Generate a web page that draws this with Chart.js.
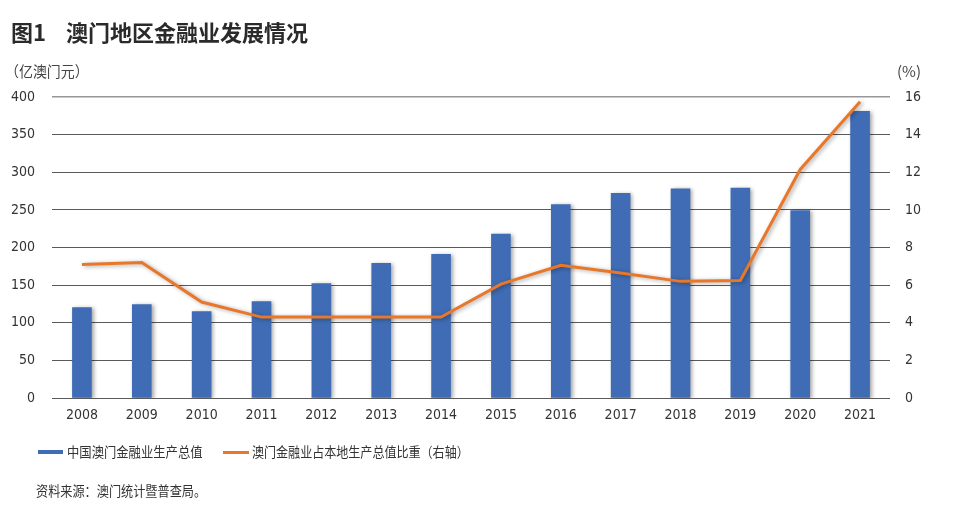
<!DOCTYPE html>
<html><head><meta charset="utf-8">
<script src="https://cdn.jsdelivr.net/npm/chart.js@4/dist/chart.umd.min.js"></script>
<style>
html,body{margin:0;padding:0;background:#fff;}
#wrap{position:relative;width:960px;height:508px;overflow:hidden;font-family:"Noto Sans CJK SC","Noto Sans",sans-serif;color:#333;}
canvas{position:absolute;left:0;top:0;}
.t{position:absolute;white-space:nowrap;transform-origin:0 50%;}
#title{left:11px;top:15px;font-size:22px;font-weight:bold;color:#2a2a2a;}
#unitL{left:5px;top:60px;font-size:15px;color:#444;transform:scaleX(0.93);}
#unitR{left:897px;top:60px;font-size:15px;color:#444;}
.sw{position:absolute;}
#leg1{left:67px;top:441px;font-size:14px;transform:scaleX(0.88);}
#leg2{left:252px;top:441px;font-size:14px;transform:scaleX(0.86);}
#src{left:36px;top:480px;font-size:13.5px;transform:scaleX(0.9);}
</style></head>
<body><div id="wrap">
<canvas id="c" width="960" height="508"></canvas>
<div class="t" id="title">图1&nbsp;&nbsp;&nbsp;&nbsp;澳门地区金融业发展情况</div>
<div class="t" id="unitL">（亿澳门元）</div>
<div class="t" id="unitR">(%)</div>
<div class="sw" style="left:38px;top:450px;width:25px;height:4px;background:#3F6CB4;"></div>
<div class="t" id="leg1">中国澳门金融业生产总值</div>
<div class="sw" style="left:223px;top:451px;width:26px;height:2.5px;background:#E8772A;"></div>
<div class="t" id="leg2">澳门金融业占本地生产总值比重（右轴）</div>
<div class="t" id="src">资料来源：澳门统计暨普查局。</div>
</div>
<script>
const years = ['2008','2009','2010','2011','2012','2013','2014','2015','2016','2017','2018','2019','2020','2021'];
const gdpFinance = [120,124,115,128,152,179,191,218,257,272,278,279,249,381];
const shareOfGdp = [7.1,7.2,5.1,4.3,4.3,4.3,4.3,6.05,7.05,6.65,6.2,6.25,12.15,15.75];
const leftTicks = [0,50,100,150,200,250,300,350,400];
const rightTicks = [0,2,4,6,8,10,12,14,16];

const tickFont = {family:'"Liberation Sans Narrow","DejaVu Sans Condensed","Liberation Sans",sans-serif', size:14};

const shadowPlugin = {
  id:'shadow',
  beforeDatasetsDraw(chart){
    const ctx = chart.ctx; ctx.save();
    ctx.shadowColor='rgba(0,0,0,0.35)'; ctx.shadowBlur=4; ctx.shadowOffsetX=2; ctx.shadowOffsetY=1;
  },
  afterDatasetsDraw(chart){ chart.ctx.restore(); }
};

new Chart(document.getElementById('c'), {
  data:{
    labels: years,
    datasets:[
      {type:'line', label:'澳门金融业占本地生产总值比重（右轴）', data:shareOfGdp, yAxisID:'y1',
       borderColor:'#E8772A', borderWidth:3, pointRadius:0, tension:0, order:0, borderJoinStyle:'miter'},
      {type:'bar', label:'中国澳门金融业生产总值', data:gdpFinance, yAxisID:'y',
       backgroundColor:'#3F6CB4', barThickness:19, order:1}
    ]
  },
  options:{
    responsive:false, animation:false,
    layout:{padding:{top:97, left:0, right:0, bottom:0}},
    plugins:{legend:{display:false}, tooltip:{enabled:false}},
    scales:{
      x:{
        grid:{display:false, drawTicks:false}, border:{display:false},
        ticks:{font:tickFont, color:'#333', padding:9, maxRotation:0},
        afterFit(s){ s.height = 110; }
      },
      y:{
        position:'left', min:0, max:400,
        afterBuildTicks(s){ s.ticks = leftTicks.map(v=>({value:v})); },
        grid:{color:(c)=> c.tick && c.tick.value===400 ? '#9a9696' : '#5a5a5a', lineWidth:(c)=> c.tick && c.tick.value===400 ? 1.6 : 1, drawTicks:false},
        border:{display:false},
        ticks:{font:tickFont, color:'#333', padding:17},
        afterFit(s){ s.width = 52; }
      },
      y1:{
        position:'right', min:0, max:16,
        afterBuildTicks(s){ s.ticks = rightTicks.map(v=>({value:v})); },
        grid:{display:false, drawTicks:false}, border:{display:false},
        ticks:{font:tickFont, color:'#333', padding:15},
        afterFit(s){ s.width = 70; }
      }
    }
  },
  plugins:[shadowPlugin]
});
</script>
</body></html>
